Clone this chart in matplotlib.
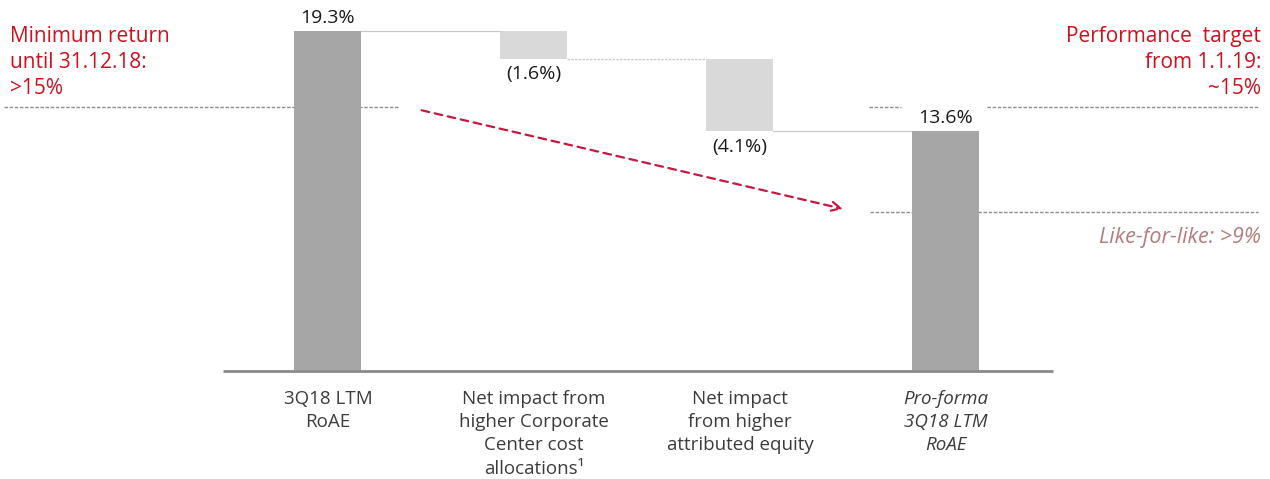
import matplotlib
matplotlib.use("Agg")
import matplotlib.pyplot as plt

plt.rcParams["font.family"] = ["Open Sans", "DejaVu Sans"]

# waterfall: start, two deltas, pro-forma end
categories = [
    "3Q18 LTM\nRoAE",
    "Net impact from\nhigher Corporate\nCenter cost\nallocations\u00b9",
    "Net impact\nfrom higher\nattributed equity",
    "Pro-forma\n3Q18 LTM\nRoAE",
]
values = [19.3, -1.6, -4.1, 13.6]
is_total = [True, False, False, True]
value_labels = ["19.3%", "(1.6%)", "(4.1%)", "13.6%"]

min_return = 15.0      # until 31.12.18
target = 15.0          # from 1.1.19
like_for_like = 9.0

RED = "#d0101e"
DARK = "#a6a6a6"
LIGHT = "#d9d9d9"
DASH = "#8c8c8c"

fig = plt.figure(figsize=(12.7, 4.79), dpi=100)
ax = fig.add_axes([0, 0, 1, 1])
ax.set_xlim(-1.592, 4.573)
ax.set_ylim(-6.13, 21.06)
ax.axis("off")

width = 0.325
xs = list(range(len(values)))

# bar extents
bottoms, heights = [], []
level = 0.0
for v, tot in zip(values, is_total):
    if tot:
        bottoms.append(0.0)
        heights.append(v)
        level = v
    else:
        bottoms.append(level + v)
        heights.append(-v)
        level += v

# reference levels (drawn under the bars)
dash = (0, (2.5, 1.2))
ax.plot([-1.575, 0.34], [min_return] * 2, color=DASH, lw=1, ls=dash, zorder=1)
ax.plot([2.625, 2.78], [target] * 2, color=DASH, lw=1, ls=dash, zorder=1)
ax.plot([3.2, 4.515], [target] * 2, color=DASH, lw=1, ls=dash, zorder=1)
ax.plot([2.63, 4.515], [like_for_like] * 2, color=DASH, lw=1, ls=dash, zorder=1)

for x, b, h, tot in zip(xs, bottoms, heights, is_total):
    ax.bar(x, h, bottom=b, width=width, color=DARK if tot else LIGHT,
           edgecolor="none", zorder=2)

# connectors between consecutive bars
for i in range(len(values) - 1):
    y = heights[i] if is_total[i] else bottoms[i]
    ax.plot([xs[i] + width / 2, xs[i + 1] - width / 2], [y, y],
            color="#c8c8c8", lw=0.9, zorder=1,
            ls=(0, (2, 1)) if i == 1 else "-")

# value labels
for x, b, h, tot, lab in zip(xs, bottoms, heights, is_total, value_labels):
    if tot:
        ax.annotate(lab, (x, b + h), xytext=(0, 3), textcoords="offset points",
                    ha="center", va="bottom", fontsize=14, color="#1a1a1a")
    else:
        ax.annotate(lab, (x, b), xytext=(0, -4.5), textcoords="offset points",
                    ha="center", va="top", fontsize=14, color="#1a1a1a")

# baseline
ax.plot([-0.51, 3.52], [0, 0], color="#8a8a8a", lw=2, zorder=3,
        solid_capstyle="butt")

# category labels
for x, lab, tot in zip(xs, categories, is_total):
    ax.annotate(lab, (x, 0), xytext=(0, -13.5), textcoords="offset points",
                ha="center", va="top", fontsize=13.5, color="#3c3c3c",
                linespacing=1.38, style="italic" if x == xs[-1] else "normal")

# targets
ax.text(-1.545, 19.58, "Minimum return\nuntil 31.12.18:\n>15%",
        ha="left", va="top", fontsize=15, color=RED, linespacing=1.32)
ax.text(4.53, 19.58, "Performance  target\nfrom 1.1.19:\n~15%",
        ha="right", va="top", fontsize=15, color=RED, linespacing=1.32)
ax.text(4.53, like_for_like - 0.82, "Like-for-like: >9%", ha="right", va="top",
        fontsize=15.5, color="#b47c7c", style="italic")

# drift from the old minimum to the like-for-like level
ax.annotate("", xy=(2.5, like_for_like + 0.2), xytext=(0.455, min_return - 0.2),
            arrowprops=dict(arrowstyle="->", color="#c8173f", lw=1.6,
                            ls=(0, (3.5, 2.5)), mutation_scale=16,
                            shrinkA=0, shrinkB=0))

fig.savefig("out.png", dpi=100)
